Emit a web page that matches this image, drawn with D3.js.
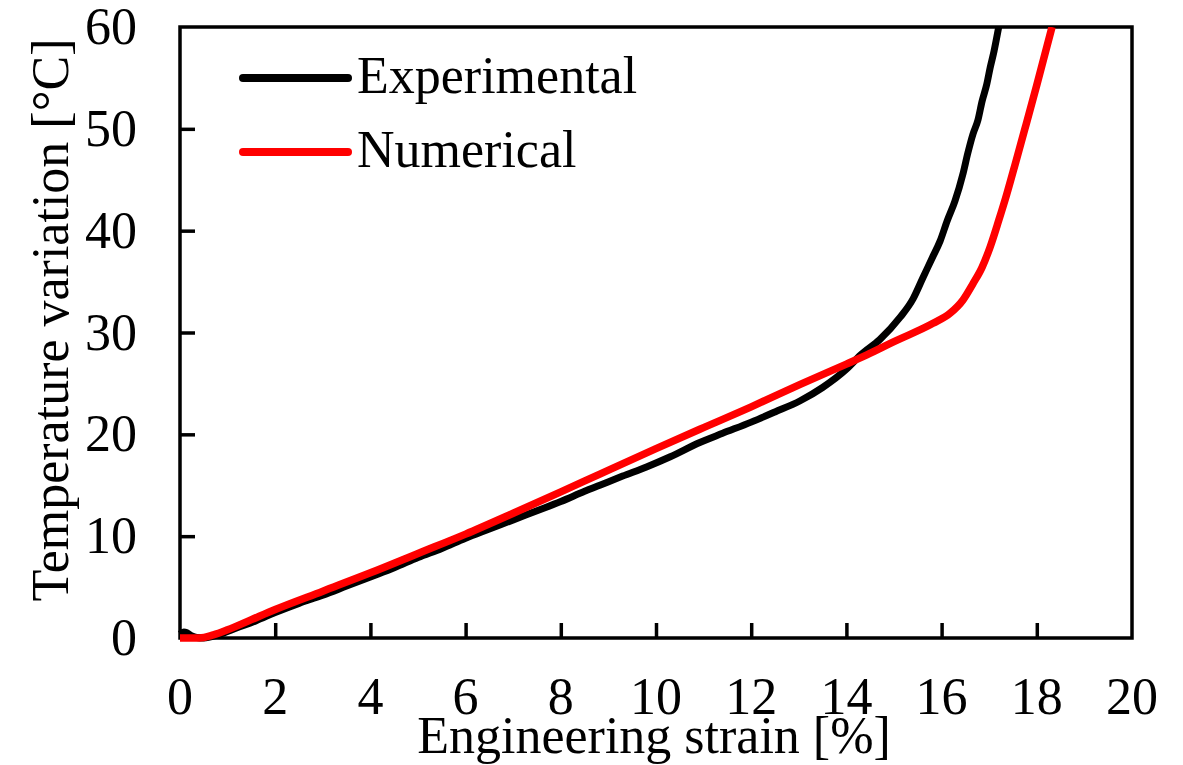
<!DOCTYPE html>
<html>
<head>
<meta charset="utf-8">
<script src="https://cdn.jsdelivr.net/npm/d3@7"></script>
<style>
  html, body { margin: 0; padding: 0; background: #fff; }
  svg text { font-family: "Liberation Serif", "Times New Roman", serif; fill: #000; }
</style>
</head>
<body>
<svg id="chart" width="1183" height="765"></svg>
<script>
// Temperature rise vs. engineering strain: measured curve and simulation
const xTicks = [0, 2, 4, 6, 8, 10, 12, 14, 16, 18, 20];
const yTicks = [0, 10, 20, 30, 40, 50, 60];

const experimentalStrain = [0, 0.08, 0.15, 0.25, 0.35, 0.5, 0.8, 1.2, 1.6, 2, 2.5, 3, 3.5, 4, 4.5, 5, 5.5, 6, 6.5, 7, 7.5, 8, 8.5, 8.82, 9.3, 9.8, 10.3, 10.92, 11.4, 12, 12.5, 13.03, 13.5, 14, 14.3, 14.7, 15.13, 15.4, 15.6, 15.8, 15.97, 16.12, 16.28, 16.45, 16.55, 16.66, 16.76, 16.85, 16.95, 17.02, 17.1, 17.2];
const experimentalTemp   = [0.4, 0.6, 0.5, 0.2, 0.05, 0, 0.3, 1.0, 1.7, 2.5, 3.4, 4.2, 5.1, 6.0, 6.9, 7.9, 8.8, 9.8, 10.7, 11.6, 12.5, 13.4, 14.4, 15.0, 15.9, 16.8, 17.8, 19.2, 20.1, 21.2, 22.2, 23.3, 24.6, 26.4, 27.8, 29.3, 31.5, 33.3, 35.3, 37.3, 39.0, 41.0, 42.9, 45.6, 47.6, 49.5, 50.8, 52.7, 54.4, 56.0, 57.6, 60];

const numericalStrain = [0, 0.4, 0.7, 1, 1.5, 2, 3, 4, 5, 6, 7, 8, 8.82, 10, 10.92, 12, 13.03, 14, 14.43, 15, 15.82, 16.18, 16.45, 16.66, 16.85, 17.02, 17.2, 17.37, 17.55, 17.75, 18, 18.32];
const numericalTemp   = [0, 0, 0.3, 0.8, 1.8, 2.8, 4.6, 6.4, 8.3, 10.2, 12.25, 14.35, 16.1, 18.6, 20.5, 22.7, 24.9, 26.9, 27.8, 29.1, 30.9, 31.9, 33.2, 34.8, 36.4, 38.4, 41.0, 43.6, 46.6, 50.0, 54.3, 60];

const seriesNames = ["Experimental", "Numerical"];
const seriesColors = ["#000000", "#ff0000"];

const svg = d3.select("#chart");
const plotLeft = 180, plotRight = 1132, plotTop = 27, plotBottom = 638;

const x = d3.scaleLinear().domain([0, 20]).range([plotLeft, plotRight]);
const y = d3.scaleLinear().domain([0, 60]).range([plotBottom, plotTop]);

// Clip only the top edge; the curves may sit on the bottom axis line
svg.append("defs").append("clipPath").attr("id", "plotClip")
  .append("rect").attr("x", plotLeft - 10).attr("y", plotTop)
  .attr("width", plotRight - plotLeft + 10).attr("height", plotBottom - plotTop + 12);

const fontSize = 52;

// Frame
svg.append("rect")
  .attr("x", plotLeft).attr("y", plotTop)
  .attr("width", plotRight - plotLeft).attr("height", plotBottom - plotTop)
  .attr("fill", "none").attr("stroke", "#000").attr("stroke-width", 3.5);

// Inward ticks drawn with d3 axes, labels placed separately
const xAxis = svg.append("g").attr("transform", `translate(0,${plotBottom})`)
  .call(d3.axisTop(x).tickValues(xTicks.slice(1, -1)).tickSize(15).tickFormat(""));
xAxis.select(".domain").remove();
xAxis.selectAll(".tick line").attr("stroke", "#000").attr("stroke-width", 3.5);

const yAxis = svg.append("g").attr("transform", `translate(${plotLeft},0)`)
  .call(d3.axisRight(y).tickValues(yTicks.slice(1, -1)).tickSize(15).tickFormat(""));
yAxis.select(".domain").remove();
yAxis.selectAll(".tick line").attr("stroke", "#000").attr("stroke-width", 3.5);

svg.append("g").selectAll("text").data(xTicks).join("text")
  .attr("x", d => x(d)).attr("y", 714)
  .attr("text-anchor", "middle").attr("font-size", fontSize)
  .text(d => d);

svg.append("g").selectAll("text").data(yTicks).join("text")
  .attr("x", 137).attr("y", d => y(d) + 17)
  .attr("text-anchor", "end").attr("font-size", fontSize)
  .text(d => d);

// Axis titles
svg.append("text")
  .attr("x", (plotLeft + plotRight) / 2 - 2).attr("y", 753)
  .attr("text-anchor", "middle").attr("font-size", fontSize)
  .text("Engineering strain [%]");

svg.append("text")
  .attr("transform", "translate(68,320) rotate(-90)")
  .attr("text-anchor", "middle").attr("font-size", fontSize)
  .text("Temperature variation [°C]");

// Curves
const line = d3.line().x(d => x(d[0])).y(d => y(d[1])).curve(d3.curveMonotoneX);
const expData = d3.zip(experimentalStrain, experimentalTemp);
const numData = d3.zip(numericalStrain, numericalTemp);

const curves = svg.append("g").attr("clip-path", "url(#plotClip)");
curves.append("path").datum(expData)
  .attr("d", line).attr("fill", "none")
  .attr("stroke", seriesColors[0]).attr("stroke-width", 7)
  .attr("stroke-linejoin", "round");
curves.append("path").datum(numData)
  .attr("d", line).attr("fill", "none")
  .attr("stroke", seriesColors[1]).attr("stroke-width", 7.5)
  .attr("stroke-linejoin", "round");

// Legend
const legend = svg.append("g");
seriesNames.forEach((name, i) => {
  const ly = 78 + i * 74;
  legend.append("line")
    .attr("x1", 243).attr("x2", 348).attr("y1", ly).attr("y2", ly)
    .attr("stroke", seriesColors[i]).attr("stroke-width", 8)
    .attr("stroke-linecap", "round");
  legend.append("text")
    .attr("x", 357).attr("y", ly + 15)
    .attr("font-size", fontSize)
    .text(name);
});
</script>
</body>
</html>
